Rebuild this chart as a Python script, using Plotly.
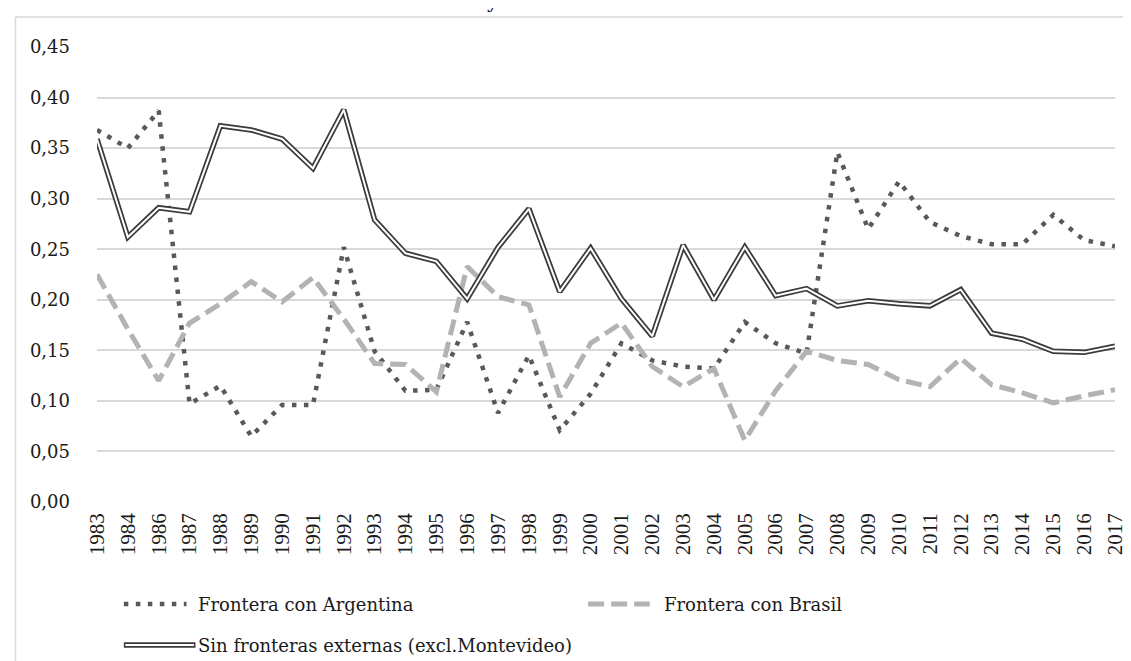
import plotly.graph_objects as go

years = ["1983", "1984", "1986", "1987", "1988", "1989", "1990", "1991", "1992", "1993",
         "1994", "1995", "1996", "1997", "1998", "1999", "2000", "2001", "2002", "2003",
         "2004", "2005", "2006", "2007", "2008", "2009", "2010", "2011", "2012", "2013",
         "2014", "2015", "2016", "2017"]

argentina = [0.368, 0.350, 0.387, 0.097, 0.115, 0.065, 0.096, 0.096, 0.252, 0.149,
             0.110, 0.111, 0.178, 0.088, 0.145, 0.071, 0.107, 0.157, 0.140, 0.134,
             0.132, 0.178, 0.157, 0.147, 0.346, 0.270, 0.317, 0.277, 0.263, 0.255,
             0.255, 0.284, 0.259, 0.253]

brasil = [0.225, 0.171, 0.120, 0.177, 0.196, 0.218, 0.198, 0.222, 0.181, 0.137,
          0.136, 0.109, 0.233, 0.203, 0.195, 0.104, 0.157, 0.177, 0.134, 0.114,
          0.132, 0.061, 0.110, 0.149, 0.140, 0.136, 0.121, 0.114, 0.142, 0.116,
          0.108, 0.098, 0.105, 0.111]

sin_fronteras = [0.359, 0.262, 0.291, 0.287, 0.372, 0.368, 0.359, 0.330, 0.388, 0.279,
                 0.246, 0.238, 0.201, 0.252, 0.290, 0.208, 0.251, 0.201, 0.164, 0.254,
                 0.200, 0.252, 0.204, 0.211, 0.194, 0.199, 0.196, 0.194, 0.210, 0.167,
                 0.161, 0.149, 0.148, 0.154]

y_ticks = [0.0, 0.05, 0.10, 0.15, 0.20, 0.25, 0.30, 0.35, 0.40, 0.45]
y_tick_text = ["0,00", "0,05", "0,10", "0,15", "0,20", "0,25", "0,30", "0,35", "0,40", "0,45"]

names = ["Frontera con Argentina", "Frontera con Brasil", "Sin fronteras externas (excl.Montevideo)"]

W, H = 1131, 661
L, R, T, B = 89, 18, 39, 167
PW, PH = W - L - R, H - T - B

def px(x):
    return (x - L) / PW

def py(y):
    return (H - B - y) / PH

DOT_C = "#595959"
DASH_C = "#b3b3b3"
DBL_C = "#3a3a3a"

fig = go.Figure()
fig.add_trace(go.Scatter(x=years, y=argentina, mode="lines", name=names[0],
                         line=dict(color=DOT_C, width=4.5, dash="4.5px,7.5px"),
                         showlegend=False, hoverinfo="skip"))
fig.add_trace(go.Scatter(x=years, y=brasil, mode="lines", name=names[1],
                         line=dict(color=DASH_C, width=5, dash="16px,7px"),
                         showlegend=False, hoverinfo="skip"))
fig.add_trace(go.Scatter(x=years, y=sin_fronteras, mode="lines", name=names[2],
                         line=dict(color=DBL_C, width=5.5),
                         showlegend=False, hoverinfo="skip"))
fig.add_trace(go.Scatter(x=years, y=sin_fronteras, mode="lines", name=names[2],
                         line=dict(color="white", width=2),
                         showlegend=False, hoverinfo="skip"))

shapes = []
# outer chart border (left and top)
shapes.append(dict(type="line", xref="paper", yref="paper",
                   x0=px(7), x1=px(7), y0=py(9), y1=py(H + 5),
                   line=dict(color="#d9d9d9", width=1.5)))
shapes.append(dict(type="line", xref="paper", yref="paper",
                   x0=px(7), x1=px(W + 5), y0=py(9), y1=py(9),
                   line=dict(color="#d9d9d9", width=1.5)))
# legend samples
shapes.append(dict(type="line", xref="paper", yref="paper",
                   x0=px(116), x1=px(179), y0=py(596), y1=py(596),
                   line=dict(color=DOT_C, width=4.5, dash="4.5px,7.5px")))
shapes.append(dict(type="line", xref="paper", yref="paper",
                   x0=px(583), x1=px(645), y0=py(596), y1=py(596),
                   line=dict(color=DASH_C, width=5, dash="16px,7px")))
shapes.append(dict(type="line", xref="paper", yref="paper",
                   x0=px(116), x1=px(188), y0=py(637), y1=py(637),
                   line=dict(color=DBL_C, width=5.5)))
shapes.append(dict(type="line", xref="paper", yref="paper",
                   x0=px(117.5), x1=px(186.5), y0=py(637), y1=py(637),
                   line=dict(color="white", width=2)))

leg_font = dict(family="DejaVu Serif", size=18, color="#1a1a1a")
annotations = [
    dict(text=names[0], xref="paper", yref="paper", x=px(189), y=py(596),
         xanchor="left", yanchor="middle", showarrow=False, font=leg_font),
    dict(text=names[1], xref="paper", yref="paper", x=px(657), y=py(596),
         xanchor="left", yanchor="middle", showarrow=False, font=leg_font),
    dict(text=names[2], xref="paper", yref="paper", x=px(189), y=py(637),
         xanchor="left", yanchor="middle", showarrow=False, font=leg_font),
    dict(text="y", xref="paper", yref="paper", x=px(487), y=py(7),
         xanchor="center", yanchor="bottom", showarrow=False,
         font=dict(family="DejaVu Serif", size=20, color="#1a1a1a")),
]

fig.update_layout(
    width=W, height=H,
    margin=dict(l=L, r=R, t=T, b=B, pad=0),
    paper_bgcolor="white", plot_bgcolor="white",
    shapes=shapes, annotations=annotations,
    showlegend=False,
    xaxis=dict(type="category", categoryorder="array", categoryarray=years,
               tickangle=-90, showgrid=False, showline=False, zeroline=False,
               ticks="", ticklabelstandoff=6,
               tickfont=dict(family="Liberation Serif", size=21, color="#1a1a1a")),
    yaxis=dict(range=[0, 0.45], tickvals=y_ticks, ticktext=y_tick_text,
               showgrid=True, gridcolor="#d9d9d9", gridwidth=1.5,
               zeroline=False, showline=False, ticks="", ticklabelstandoff=26,
               tickfont=dict(family="DejaVu Serif", size=18, color="#1a1a1a")),
)

fig.write_html("out.html")
